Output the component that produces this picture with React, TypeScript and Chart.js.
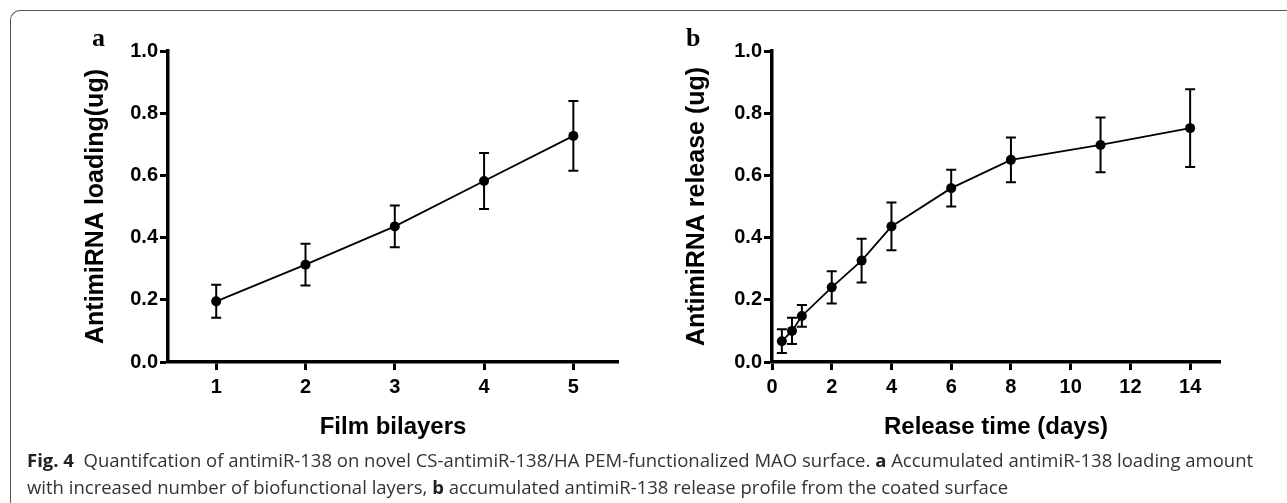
import React, { useEffect, useRef } from 'react';
import { Chart, registerables } from 'chart.js';

Chart.register(...registerables);

// Panel a: loading vs film bilayers
const BILAYERS = [1, 2, 3, 4, 5];
const LOADING = [0.195, 0.313, 0.436, 0.582, 0.727];
const LOADING_ERR = [0.053, 0.067, 0.067, 0.09, 0.112];
const BILAYER_TICKS = [1, 2, 3, 4, 5];

// Panel b: release vs time
const DAYS = [0.33, 0.67, 1, 2, 3, 4, 6, 8, 11, 14];
const RELEASE = [0.067, 0.1, 0.148, 0.24, 0.326, 0.436, 0.559, 0.65, 0.698, 0.752];
const RELEASE_ERR = [0.038, 0.042, 0.035, 0.052, 0.07, 0.077, 0.059, 0.072, 0.088, 0.125];
const DAY_TICKS = [0, 2, 4, 6, 8, 10, 12, 14];

const Y_TICKS = [0, 0.2, 0.4, 0.6, 0.8, 1.0];

const FAMILY = '"Liberation Sans", Arial, Helvetica, sans-serif';

const errorBarPlugin = {
  id: 'errorBars',
  beforeDatasetsDraw(chart: any, _args: any, opts: any) {
    const errs: number[] = opts.errors || [];
    const { ctx } = chart;
    const xs = chart.scales.x;
    const ys = chart.scales.y;
    const data = chart.data.datasets[0].data as { x: number; y: number }[];
    ctx.save();
    ctx.strokeStyle = '#000';
    ctx.lineWidth = 2;
    const cap = 5;
    data.forEach((d, i) => {
      const e = errs[i];
      if (e == null) return;
      const px = xs.getPixelForValue(d.x);
      const top = ys.getPixelForValue(d.y + e);
      const bot = ys.getPixelForValue(d.y - e);
      ctx.beginPath();
      ctx.moveTo(px, top);
      ctx.lineTo(px, bot);
      ctx.moveTo(px - cap, top);
      ctx.lineTo(px + cap, top);
      ctx.moveTo(px - cap, bot);
      ctx.lineTo(px + cap, bot);
      ctx.stroke();
    });
    ctx.restore();
  },
};

type PanelCfg = {
  xs: number[];
  ys: number[];
  errs: number[];
  xTicks: number[];
  xMin: number;
  xMax: number;
  xTitle: string;
  yTitle: string;
  yWidth: number;
  yTitlePad: number;
  padRight: number;
};

function makeConfig(p: PanelCfg): any {
  return {
    type: 'line',
    data: {
      datasets: [
        {
          data: p.xs.map((x, i) => ({ x, y: p.ys[i] })),
          borderColor: '#000',
          borderWidth: 1.8,
          pointRadius: 5,
          pointBackgroundColor: '#000',
          pointBorderColor: '#000',
          pointBorderWidth: 0,
          tension: 0,
          fill: false,
        },
      ],
    },
    plugins: [errorBarPlugin],
    options: {
      responsive: false,
      animation: false,
      devicePixelRatio: 1,
      layout: { padding: { top: 51, right: p.padRight, left: 0, bottom: 0 } },
      plugins: {
        legend: { display: false },
        tooltip: { enabled: false },
        errorBars: { errors: p.errs },
      },
      scales: {
        x: {
          type: 'linear',
          min: p.xMin,
          max: p.xMax,
          afterBuildTicks: (s: any) => {
            s.ticks = p.xTicks.map((v) => ({ value: v }));
          },
          afterFit: (s: any) => {
            s.height = 88;
          },
          ticks: {
            font: { family: FAMILY, size: 20, weight: 'bold' },
            color: '#000',
            padding: 5,
            maxRotation: 0,
            callback: (v: any) => String(v),
          },
          grid: {
            drawOnChartArea: false,
            drawTicks: true,
            tickLength: 8,
            tickWidth: 3,
            tickColor: '#000',
          },
          border: { display: true, color: '#000', width: 3.5 },
          title: {
            display: true,
            text: p.xTitle,
            font: { family: FAMILY, size: 24, weight: 'bold' },
            color: '#000',
            padding: { top: 0, bottom: 8 },
          },
        },
        y: {
          type: 'linear',
          min: 0,
          max: 1,
          afterBuildTicks: (s: any) => {
            s.ticks = Y_TICKS.map((v) => ({ value: v }));
          },
          afterFit: (s: any) => {
            s.width = p.yWidth;
          },
          ticks: {
            font: { family: FAMILY, size: 20, weight: 'bold' },
            color: '#000',
            padding: 2,
            callback: (v: any) => Number(v).toFixed(1),
          },
          grid: {
            drawOnChartArea: false,
            drawTicks: true,
            tickLength: 8,
            tickWidth: 3,
            tickColor: '#000',
          },
          border: { display: true, color: '#000', width: 3.5 },
          title: {
            display: true,
            text: p.yTitle,
            font: { family: FAMILY, size: 25, weight: 'bold' },
            color: '#000',
            padding: { top: p.yTitlePad, bottom: 0 },
          },
        },
      },
    },
  };
}

function Panel(props: { cfg: PanelCfg; left: number; width: number; height: number }) {
  const ref = useRef<HTMLCanvasElement | null>(null);
  useEffect(() => {
    if (!ref.current) return;
    const chart = new Chart(ref.current, makeConfig(props.cfg));
    return () => chart.destroy();
  }, []);
  return (
    <canvas
      ref={ref}
      width={props.width}
      height={props.height}
      style={{ position: 'absolute', left: props.left, top: 0, width: props.width, height: props.height }}
    />
  );
}

export default function App() {
  const panelA: PanelCfg = {
    xs: BILAYERS,
    ys: LOADING,
    errs: LOADING_ERR,
    xTicks: BILAYER_TICKS,
    xMin: 0.46,
    xMax: 5.5,
    xTitle: 'Film bilayers',
    yTitle: 'AntimiRNA loading(ug)',
    yWidth: 168,
    yTitlePad: 81.5,
    padRight: 32,
  };
  const panelB: PanelCfg = {
    xs: DAYS,
    ys: RELEASE,
    errs: RELEASE_ERR,
    xTicks: DAY_TICKS,
    xMin: 0,
    xMax: 15,
    xTitle: 'Release time (days)',
    yTitle: 'AntimiRNA release (ug)',
    yWidth: 122,
    yTitlePad: 32,
    padRight: 30,
  };
  const captionStyle: React.CSSProperties = {
    position: 'absolute',
    left: 27,
    whiteSpace: 'nowrap',
    fontFamily: '"Open Sans", "Noto Sans", sans-serif',
    fontSize: 18.5,
    color: '#333',
    lineHeight: '22px',
  };
  return (
    <div
      style={{
        position: 'absolute',
        left: 0,
        top: 0,
        width: 1287,
        height: 503,
        overflow: 'hidden',
        background: '#fff',
      }}
    >
      <div
        style={{
          position: 'absolute',
          left: 10,
          top: 10,
          width: 1400,
          height: 600,
          borderLeft: '1.5px solid #555',
          borderTop: '1.5px solid #555',
          borderTopLeftRadius: 10,
        }}
      />
      <Panel cfg={panelA} left={0} width={650} height={450} />
      <Panel cfg={panelB} left={650} width={600} height={450} />
      <div
        style={{
          position: 'absolute',
          left: 92,
          top: 23,
          fontFamily: '"Liberation Serif", "Times New Roman", serif',
          fontWeight: 'bold',
          fontSize: 26,
          lineHeight: '30px',
          color: '#000',
        }}
      >
        a
      </div>
      <div
        style={{
          position: 'absolute',
          left: 686,
          top: 23,
          fontFamily: '"Liberation Serif", "Times New Roman", serif',
          fontWeight: 'bold',
          fontSize: 26,
          lineHeight: '30px',
          color: '#000',
        }}
      >
        b
      </div>
      <div style={{ ...captionStyle, top: 449 }}>
        <b style={{ color: '#222' }}>Fig. 4</b>
        <span>&nbsp; Quantifcation of antimiR-138 on novel CS-antimiR-138/HA PEM-functionalized MAO surface. </span>
        <b style={{ color: '#222' }}>a</b>
        <span> Accumulated antimiR-138 loading amount</span>
      </div>
      <div style={{ ...captionStyle, top: 476 }}>
        <span>with increased number of biofunctional layers, </span>
        <b style={{ color: '#222' }}>b</b>
        <span> accumulated antimiR-138 release profile from the coated surface</span>
      </div>
    </div>
  );
}
